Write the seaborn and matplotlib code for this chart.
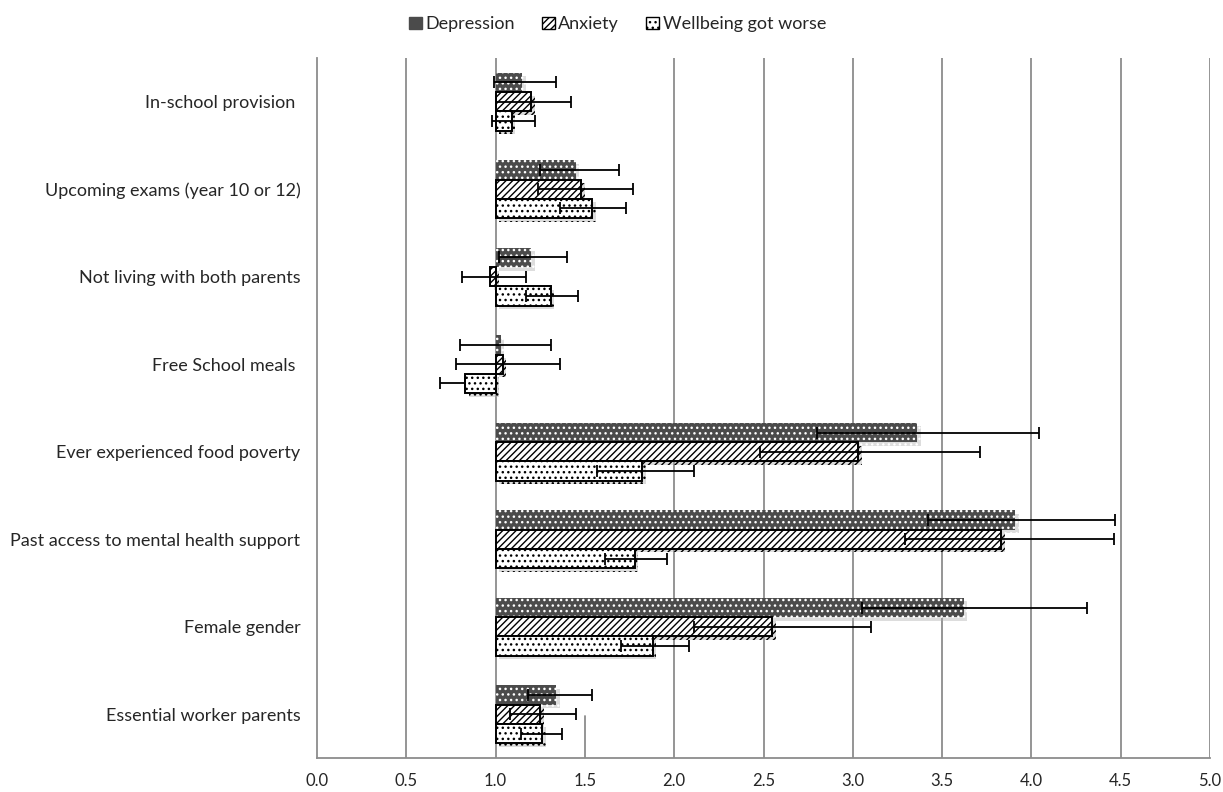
import matplotlib
matplotlib.use("Agg")
import matplotlib.pyplot as plt
import matplotlib.patheffects as pe
from matplotlib.patches import Patch
import numpy as np
import pandas as pd
import seaborn as sns

factors = [
    "In-school provision ",
    "Upcoming exams (year 10 or 12)",
    "Not living with both parents",
    "Free School meals ",
    "Ever experienced food poverty",
    "Past access to mental health support",
    "Female gender",
    "Essential worker parents",
]
outcomes = ["Depression", "Anxiety", "Wellbeing got worse"]

# odds ratios and 95% CI
dep_or = [1.15, 1.45, 1.20, 1.03, 3.36, 3.91, 3.62, 1.34]
dep_lo = [0.99, 1.25, 1.02, 0.80, 2.80, 3.42, 3.05, 1.18]
dep_hi = [1.34, 1.69, 1.40, 1.31, 4.04, 4.47, 4.31, 1.54]

anx_or = [1.20, 1.48, 0.97, 1.04, 3.03, 3.83, 2.55, 1.25]
anx_lo = [1.00, 1.24, 0.81, 0.78, 2.48, 3.29, 2.11, 1.08]
anx_hi = [1.42, 1.77, 1.17, 1.36, 3.71, 4.46, 3.10, 1.45]

wb_or = [1.09, 1.54, 1.31, 0.83, 1.82, 1.78, 1.88, 1.26]
wb_lo = [0.98, 1.36, 1.17, 0.69, 1.57, 1.61, 1.70, 1.14]
wb_hi = [1.22, 1.73, 1.46, 0.83, 2.11, 1.96, 2.08, 1.37]

x_ticks = [0.0, 0.5, 1.0, 1.5, 2.0, 2.5, 3.0, 3.5, 4.0, 4.5, 5.0]

rows = []
for name, orv, lo, hi in zip(outcomes, [dep_or, anx_or, wb_or],
                             [dep_lo, anx_lo, wb_lo], [dep_hi, anx_hi, wb_hi]):
    for f, v, l, h in zip(factors, orv, lo, hi):
        rows.append({"factor": f, "outcome": name, "odds": v, "lo": l, "hi": h})
df = pd.DataFrame(rows)

sns.set_style("white")
plt.rcParams["font.family"] = ["Lato", "DejaVu Sans"]
plt.rcParams["hatch.linewidth"] = 1.0

fig = plt.figure(figsize=(12.23, 7.92), dpi=100)
ax = fig.add_axes([0.2592, 0.0429, 0.7302, 0.8839])

sns.barplot(data=df, y="factor", x="odds", hue="outcome", order=factors,
            hue_order=outcomes, orient="h", width=0.66, errorbar=None,
            legend=False, ax=ax)

styles = {
    "Depression": dict(fc="#4b4b4b", ec="white", lw=0, hatch="..."),
    "Anxiety": dict(fc="white", ec="black", lw=1.4, hatch="/////"),
    "Wellbeing got worse": dict(fc="white", ec="black", lw=1.4, hatch="..."),
}
shadow = [pe.SimplePatchShadow(offset=(2.5, -2.5), shadow_rgbFace="#aaaaaa", alpha=0.4), pe.Normal()]

for cont, name in zip(ax.containers, outcomes):
    st = styles[name]
    sub = df[df["outcome"] == name].set_index("factor").loc[factors]
    ys = []
    for p in cont.patches:
        w = p.get_width()
        p.set_x(1.0)
        p.set_width(w - 1.0)
        p.set_facecolor(st["fc"])
        p.set_edgecolor(st["ec"])
        p.set_linewidth(st["lw"])
        p.set_hatch(st["hatch"])
        p.set_zorder(3)
        p.set_path_effects(shadow)
        ys.append(p.get_y() + p.get_height() / 2)
    ys = np.array(ys)
    vals = sub["odds"].values
    xerr = np.vstack([vals - sub["lo"].values, sub["hi"].values - vals])
    ax.errorbar(vals, ys, xerr=xerr, fmt="none", ecolor="black", elinewidth=1.3,
                capsize=4.5, capthick=1.3, zorder=5)

# vertical gridlines (the 1.5 line only shows near the bottom in the original)
for xv in x_ticks[1:]:
    if xv == 1.5:
        ax.axvline(xv, ymin=0, ymax=0.06, color="#8c8c8c", lw=1.3, zorder=1)
    else:
        ax.axvline(xv, color="#8c8c8c", lw=1.3, zorder=1)

ax.set_xlim(0, 5)
ax.set_ylim(len(factors) - 0.5, -0.5)
ax.set_xticks(x_ticks)
ax.set_xticklabels([f"{v:.1f}" for v in x_ticks], fontsize=12)
ax.set_yticks(range(len(factors)))
ax.set_yticklabels(factors, fontsize=13)
ax.set_yticks(np.arange(-0.5, len(factors)), minor=True)
ax.tick_params(axis="y", which="major", length=0, pad=12)
ax.tick_params(axis="y", which="minor", length=5, color="#8c8c8c", width=1)
ax.tick_params(axis="x", length=5, color="#8c8c8c", width=1, pad=6)
ax.set_xlabel("")
ax.set_ylabel("")

for side in ["top", "right"]:
    ax.spines[side].set_visible(False)
for side in ["left", "bottom"]:
    ax.spines[side].set_color("#8c8c8c")
    ax.spines[side].set_linewidth(1.3)

handles = [Patch(facecolor=styles[n]["fc"], edgecolor="black" if n != "Depression" else "#4b4b4b",
                 hatch=styles[n]["hatch"], linewidth=1) for n in outcomes]
fig.legend(handles, outcomes, loc="upper center", bbox_to_anchor=(0.505, 1.0), ncol=3,
           frameon=False, fontsize=13, handlelength=0.7, handleheight=0.7,
           handletextpad=0.2, columnspacing=1.5)

fig.savefig("out.png", dpi=100)
